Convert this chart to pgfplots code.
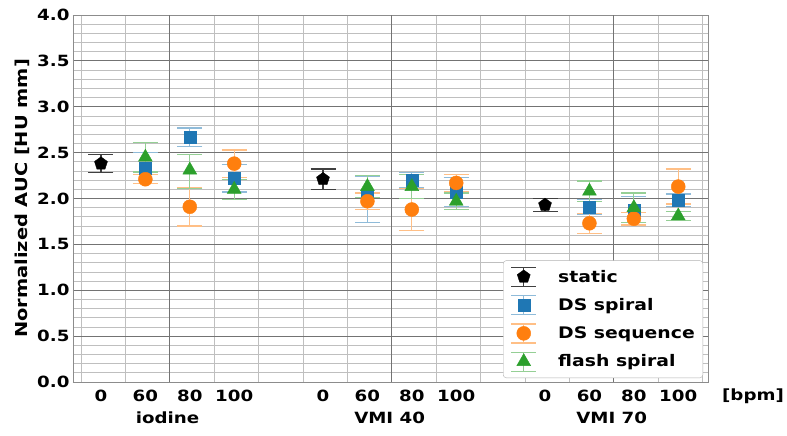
\documentclass[border=0pt]{standalone}
\usepackage{pgfplots}
\pgfplotsset{compat=1.18}
\usepackage{fontspec}
\setmainfont{DejaVu Sans}[FakeStretch=1.18]
\definecolor{tblue}{HTML}{1F77B4}
\definecolor{torange}{HTML}{FF7F0E}
\definecolor{tgreen}{HTML}{2CA02C}
\definecolor{lblue}{HTML}{8FBBD9}
\definecolor{lorange}{HTML}{FFBF86}
\definecolor{lgreen}{HTML}{95CF95}
\definecolor{lblack}{HTML}{404040}
\pgfplotsset{
  legimg/.style n args={4}{legend image code/.code={%
    \path[draw=none,fill=none] (-2.5bp,0bp) rectangle (44.5bp,0.1bp);
    \path[draw=#1,line width=1.3bp] (12bp,-9.5bp)--(12bp,9.5bp) (-0.5bp,-9.5bp)--(24.5bp,-9.5bp) (-0.5bp,9.5bp)--(24.5bp,9.5bp);
    \path[draw=#2,fill=#2] plot[only marks, mark=#3, mark size=#4] coordinates {(12bp,0bp)};}},
  errs/.style={error bars/.cd, y dir=both, y explicit,
    error bar style={line width=1.3bp, color=#1},
    error mark options={rotate=90, mark size=12.5bp, line width=1.3bp, color=#1},
    /pgfplots/.cd}
}
\begin{document}
\begin{tikzpicture}
\path[use as bounding box] (-73bp,-54bp) rectangle (714bp,382bp);
\begin{axis}[
  at={(0,0)}, anchor=south west,
  width=635bp, height=367bp, scale only axis,
  clip=false,
  xmin=-0.63, xmax=13.67, ymin=0, ymax=4,
  xtick={0,1,2,3,5,6,7,8,10,11,12,13},
  xticklabels={0,60,80,100,0,60,80,100,0,60,80,100},
  minor xtick={-0.45,0.55,1.55,2.55,3.55,4.55,5.55,6.55,7.55,8.55,9.55,10.55,11.55,12.55,13.55},
  extra x ticks={1.55,6.55,11.55}, extra x tick labels={},
  extra x tick style={grid=major},
  xmajorgrids=false, xminorgrids=true,
  ytick={0,0.5,...,4}, minor ytick={0,0.1,...,4},
  ymajorgrids, yminorgrids,
  major grid style={color=black!55, line width=1bp},
  minor grid style={color=black!25, line width=0.8bp},
  axis line style={black!45, line width=0.8bp},
  major tick length=0bp, minor tick length=0bp,
  /pgf/number format/assume math mode=true,
  yticklabel={\pgfmathprintnumber[fixed,fixed zerofill,precision=1]{\tick}},
  ticklabel style={font=\bfseries\fontsize{15.5}{18}\selectfont},
  xticklabel style={yshift=-5bp},
  legend style={at={(1,0)}, anchor=south east, xshift=-5bp, yshift=4bp,
    draw=black!30, rounded corners=3bp, fill=white,
    font=\bfseries\fontsize{16}{18}\selectfont,
    row sep=8bp, inner xsep=6bp, inner ysep=6bp},
  legend cell align=left,
]
\addplot[forget plot, only marks, mark=pentagon*, mark size=6.8bp, color=black,
  errs=lblack] coordinates {
  (0,2.38) +- (0,0.10)
  (5,2.21) +- (0,0.11)
  (10,1.93) +- (0,0.07)
};
\addplot[forget plot, only marks, mark=square*, mark size=6bp, color=tblue,
  errs=lblue] coordinates {
  (1,2.33) +- (0,0.17)
  (2,2.67) +- (0,0.10)
  (3,2.22) +- (0,0.15)
  (6,2.02) += (0,0.22) -= (0,0.28)
  (7,2.20) +- (0,0.08)
  (8,2.07) +- (0,0.16)
  (11,1.91) +- (0,0.08)
  (12,1.87) +- (0,0.15)
  (13,1.98) +- (0,0.07)
};
\addplot[forget plot, only marks, mark=*, mark size=7bp, color=torange,
  errs=lorange] coordinates {
  (1,2.21) +- (0,0.05)
  (2,1.91) +- (0,0.21)
  (3,2.38) +- (0,0.15)
  (6,1.97) +- (0,0.09)
  (7,1.88) +- (0,0.23)
  (8,2.17) +- (0,0.09)
  (11,1.73) +- (0,0.11)
  (12,1.78) +- (0,0.07)
  (13,2.13) +- (0,0.19)
};
\addplot[forget plot, only marks, mark=triangle*, mark size=8bp, color=tgreen,
  errs=lgreen] coordinates {
  (1,2.45) +- (0,0.16)
  (2,2.31) += (0,0.17) -= (0,0.20)
  (3,2.10) +- (0,0.11)
  (6,2.13) +- (0,0.12)
  (7,2.13) +- (0,0.13)
  (8,1.97) +- (0,0.09)
  (11,2.08) +- (0,0.11)
  (12,1.90) +- (0,0.16)
  (13,1.81) +- (0,0.05)
};
\addlegendimage{legimg={lblack}{black}{pentagon*}{6.8bp}}
\addlegendentry{static}
\addlegendimage{legimg={lblue}{tblue}{square*}{6bp}}
\addlegendentry{DS spiral}
\addlegendimage{legimg={lorange}{torange}{*}{7bp}}
\addlegendentry{DS sequence}
\addlegendimage{legimg={lgreen}{tgreen}{triangle*}{8bp}}
\addlegendentry{flash spiral}
\node[font=\bfseries\fontsize{15.5}{18}\selectfont] at ([yshift=-36bp]axis cs:1.5,0) {iodine};
\node[font=\bfseries\fontsize{15.5}{18}\selectfont] at ([yshift=-36bp]axis cs:6.5,0) {VMI 40};
\node[font=\bfseries\fontsize{15.5}{18}\selectfont] at ([yshift=-36bp]axis cs:11.5,0) {VMI 70};
\node[font=\bfseries\fontsize{15.5}{18}\selectfont] at ([xshift=45bp,yshift=-14bp]rel axis cs:1,0) {[bpm]};
\node[rotate=90, font=\bfseries\fontsize{16.5}{18}\selectfont] at ([xshift=-51bp]rel axis cs:0,0.5) {Normalized AUC [HU mm]};
\end{axis}
\end{tikzpicture}
\end{document}
